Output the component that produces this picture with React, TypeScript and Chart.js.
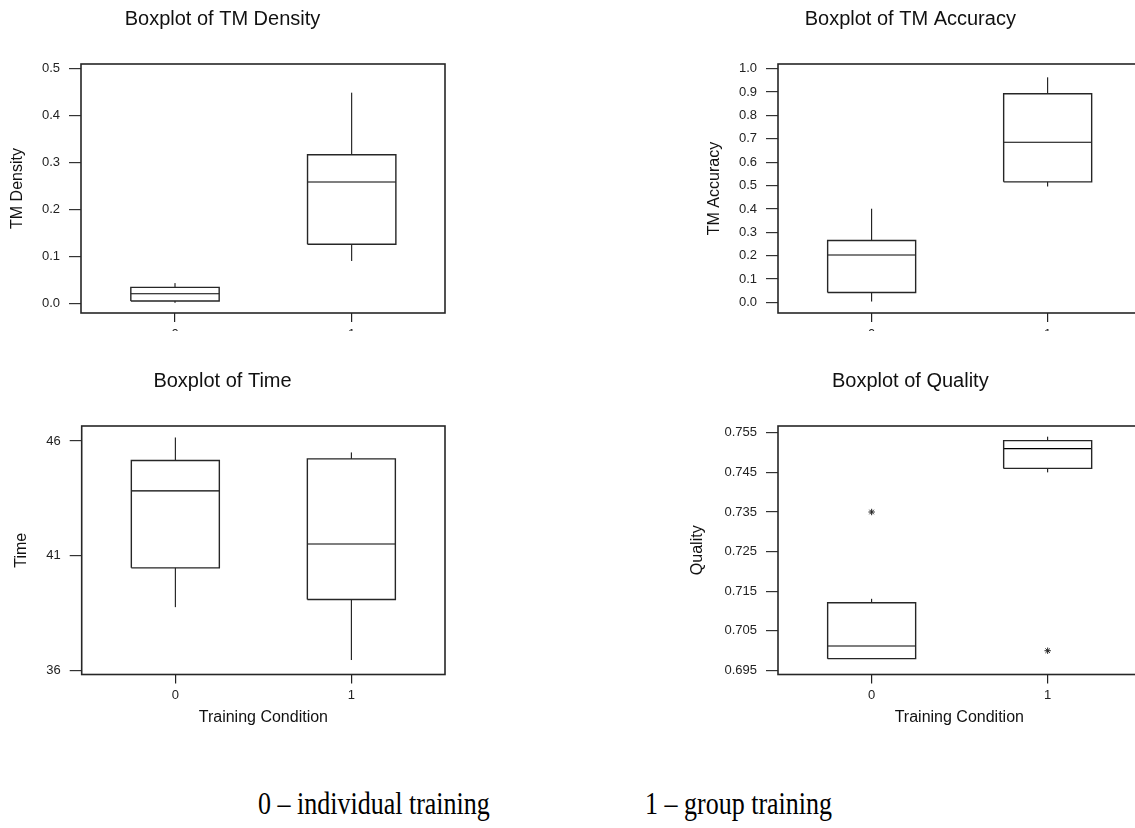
import React, { useEffect, useRef } from "react";
import { Chart, registerables } from "chart.js";

Chart.register(...registerables);

// ---------------- data ----------------
const categories = [0, 1];

// TM Density (group 0, group 1)
const densityLow = [0.001, 0.09];
const densityQ1 = [0.005, 0.1255];
const densityMedian = [0.0204, 0.258];
const densityQ3 = [0.034, 0.316];
const densityHigh = [0.043, 0.448];
const densityOutliers: number[][] = [[], []];
const densityTicks = [0, 0.1, 0.2, 0.3, 0.4, 0.5];

// TM Accuracy
const accuracyLow = [0.004, 0.496];
const accuracyQ1 = [0.043, 0.516];
const accuracyMedian = [0.203, 0.685];
const accuracyQ3 = [0.265, 0.893];
const accuracyHigh = [0.401, 0.963];
const accuracyOutliers: number[][] = [[], []];
const accuracyTicks = [0, 0.1, 0.2, 0.3, 0.4, 0.5, 0.6, 0.7, 0.8, 0.9, 1.0];

// Time
const timeLow = [38.77, 36.47];
const timeQ1 = [40.48, 39.1];
const timeMedian = [43.83, 41.52];
const timeQ3 = [45.15, 45.22];
const timeHigh = [46.15, 45.5];
const timeOutliers: number[][] = [[], []];
const timeTicks = [36, 41, 46];

// Quality
const qualityLow = [0.698, 0.745];
const qualityQ1 = [0.698, 0.746];
const qualityMedian = [0.7012, 0.751];
const qualityQ3 = [0.7121, 0.753];
const qualityHigh = [0.7131, 0.754];
const qualityOutliers: number[][] = [[0.735], [0.7]];
const qualityTicks = [0.695, 0.705, 0.715, 0.725, 0.735, 0.745, 0.755];

const footnoteLeft = "0 – individual training";
const footnoteRight = "1 – group training";

// ---------------- styling / layout ----------------
const SANS = "'Liberation Sans', Arial, Helvetica, sans-serif";
const HALF = 0.25;
const BOX_COLOR = "#262626";
const INK = "#111";

type Frame = {
  left: number;
  top: number;
  width: number;
  height: number;
  yAxisWidth: number;
  rightPad: number;
  xAxisHeight: number;
  yTitlePad: number;
  xMin: number;
  xMax: number;
};

type Panel = {
  title: string;
  yTitle: string;
  xTitle: string | null;
  low: number[];
  q1: number[];
  median: number[];
  q3: number[];
  high: number[];
  outliers: number[][];
  ticks: number[];
  decimals: number;
  yMin: number;
  yMax: number;
  frame: Frame;
};

const panels: Panel[] = [
  {
    title: "Boxplot of TM Density",
    yTitle: "TM Density",
    xTitle: null,
    low: densityLow,
    q1: densityQ1,
    median: densityMedian,
    q3: densityQ3,
    high: densityHigh,
    outliers: densityOutliers,
    ticks: densityTicks,
    decimals: 1,
    yMin: -0.0206,
    yMax: 0.509,
    frame: { left: 0, top: 0, width: 527, height: 331, yAxisWidth: 81, rightPad: 82, xAxisHeight: 18, yTitlePad: 8, xMin: -0.532, xMax: 1.528 },
  },
  {
    title: "Boxplot of TM Accuracy",
    yTitle: "TM Accuracy",
    xTitle: null,
    low: accuracyLow,
    q1: accuracyQ1,
    median: accuracyMedian,
    q3: accuracyQ3,
    high: accuracyHigh,
    outliers: accuracyOutliers,
    ticks: accuracyTicks,
    decimals: 1,
    yMin: -0.045,
    yMax: 1.02,
    frame: { left: 680, top: 0, width: 558, height: 331, yAxisWidth: 98, rightPad: 97.4, xAxisHeight: 18, yTitlePad: 25, xMin: -0.532, xMax: 1.528 },
  },
  {
    title: "Boxplot of Time",
    yTitle: "Time",
    xTitle: "Training Condition",
    low: timeLow,
    q1: timeQ1,
    median: timeMedian,
    q3: timeQ3,
    high: timeHigh,
    outliers: timeOutliers,
    ticks: timeTicks,
    decimals: 0,
    yMin: 35.84,
    yMax: 46.65,
    frame: { left: 0, top: 362, width: 527, height: 378, yAxisWidth: 81.7, rightPad: 82, xAxisHeight: 65.5, yTitlePad: 11.5, xMin: -0.532, xMax: 1.532 },
  },
  {
    title: "Boxplot of Quality",
    yTitle: "Quality",
    xTitle: "Training Condition",
    low: qualityLow,
    q1: qualityQ1,
    median: qualityMedian,
    q3: qualityQ3,
    high: qualityHigh,
    outliers: qualityOutliers,
    ticks: qualityTicks,
    decimals: 3,
    yMin: 0.694,
    yMax: 0.7567,
    frame: { left: 680, top: 362, width: 558, height: 378, yAxisWidth: 98, rightPad: 97.4, xAxisHeight: 65.5, yTitlePad: 7.5, xMin: -0.532, xMax: 1.528 },
  },
];

function segment(points: { x: number; y: number }[], color: string, width: number) {
  return {
    data: points,
    showLine: true,
    borderColor: color,
    borderWidth: width,
    pointRadius: 0,
    pointHoverRadius: 0,
    fill: false,
    tension: 0,
    borderJoinStyle: "miter" as const,
    borderCapStyle: "butt" as const,
  };
}

function buildDatasets(p: Panel) {
  const ds: any[] = [];
  categories.forEach((c, i) => {
    const l = c - HALF;
    const r = c + HALF;
    ds.push(
      segment(
        [
          { x: l, y: p.q1[i] },
          { x: r, y: p.q1[i] },
          { x: r, y: p.q3[i] },
          { x: l, y: p.q3[i] },
          { x: l, y: p.q1[i] },
        ],
        BOX_COLOR,
        1.4
      )
    );
    ds.push(segment([{ x: l, y: p.median[i] }, { x: r, y: p.median[i] }], "#000", 1.1));
    ds.push(segment([{ x: c, y: p.q3[i] }, { x: c, y: p.high[i] }], "#000", 1));
    ds.push(segment([{ x: c, y: p.low[i] }, { x: c, y: p.q1[i] }], "#000", 1));
    if (p.outliers[i].length) {
      ds.push({
        data: p.outliers[i].map((v) => ({ x: c, y: v })),
        showLine: false,
        pointStyle: "star",
        pointRadius: 3.2,
        pointHoverRadius: 3.2,
        borderColor: "#222",
        backgroundColor: "rgba(0,0,0,0)",
        borderWidth: 1,
      });
    }
  });
  return ds;
}

const framePlugin = {
  id: "frameBox",
  afterDraw(chart: any) {
    const { ctx, chartArea } = chart;
    const { left, top, right, bottom } = chartArea;
    ctx.save();
    ctx.strokeStyle = BOX_COLOR;
    ctx.lineWidth = 1.6;
    ctx.strokeRect(left, top, right - left, bottom - top);
    ctx.restore();
  },
};

function BoxPanel({ panel }: { panel: Panel }) {
  const ref = useRef<HTMLCanvasElement | null>(null);
  useEffect(() => {
    if (!ref.current) return;
    const f = panel.frame;
    const chart = new Chart(ref.current, {
      type: "scatter",
      data: { datasets: buildDatasets(panel) },
      plugins: [framePlugin],
      options: {
        animation: false,
        responsive: false,
        devicePixelRatio: 1,
        events: [],
        layout: { padding: { left: 0, right: f.rightPad, top: 0, bottom: 0 } },
        plugins: {
          legend: { display: false },
          tooltip: { enabled: false },
          title: {
            display: true,
            text: panel.title,
            color: INK,
            font: { size: 20, family: SANS, weight: "normal" },
            padding: { top: 7, bottom: 33 },
          },
        },
        scales: {
          x: {
            type: "linear",
            min: f.xMin,
            max: f.xMax,
            afterBuildTicks: (axis: any) => {
              axis.ticks = categories.map((v) => ({ value: v }));
            },
            afterFit: (scale: any) => {
              scale.height = f.xAxisHeight;
            },
            ticks: {
              callback: (v: any) => String(v),
              color: "#222",
              font: { size: 13, family: SANS },
              padding: 4.5,
              maxRotation: 0,
              autoSkip: false,
            },
            grid: { drawOnChartArea: false, drawTicks: true, tickLength: 9, color: "#222", lineWidth: 1.2 },
            border: { display: false },
            title: {
              display: !!panel.xTitle,
              text: panel.xTitle || "",
              color: INK,
              font: { size: 16, family: SANS },
              padding: { top: 0, bottom: 13 },
            },
          },
          y: {
            type: "linear",
            min: panel.yMin,
            max: panel.yMax,
            afterBuildTicks: (axis: any) => {
              axis.ticks = panel.ticks.map((v) => ({ value: v }));
            },
            afterFit: (scale: any) => {
              scale.width = f.yAxisWidth;
            },
            ticks: {
              callback: (v: any) => Number(v).toFixed(panel.decimals),
              color: "#222",
              font: { size: 13, family: SANS },
              padding: 9,
            },
            grid: { drawOnChartArea: false, drawTicks: true, tickLength: 12, color: "#333", lineWidth: 1.2 },
            border: { display: false },
            title: {
              display: true,
              text: panel.yTitle,
              color: INK,
              font: { size: 16, family: SANS },
              padding: { top: f.yTitlePad, bottom: 0 },
            },
          },
        },
      } as any,
    });
    return () => chart.destroy();
  }, [panel]);

  const f = panel.frame;
  return (
    <canvas
      ref={ref}
      width={f.width}
      height={f.height}
      style={{ position: "absolute", left: f.left, top: f.top, width: f.width, height: f.height }}
    />
  );
}

const footStyle: React.CSSProperties = {
  position: "absolute",
  top: 789,
  fontFamily: "'Liberation Serif', 'Times New Roman', serif",
  fontSize: 26,
  lineHeight: 1,
  whiteSpace: "nowrap",
  color: "#000",
  transform: "scaleY(1.2)",
  transformOrigin: "0 0",
};

export default function App() {
  return (
    <div
      style={{
        position: "fixed",
        left: 0,
        top: 0,
        width: 1135,
        height: 828,
        overflow: "hidden",
        background: "#fff",
      }}
    >
      {panels.map((p) => (
        <BoxPanel key={p.title} panel={p} />
      ))}
      <div style={{ ...footStyle, left: 258 }}>{footnoteLeft}</div>
      <div style={{ ...footStyle, left: 645 }}>{footnoteRight}</div>
    </div>
  );
}
